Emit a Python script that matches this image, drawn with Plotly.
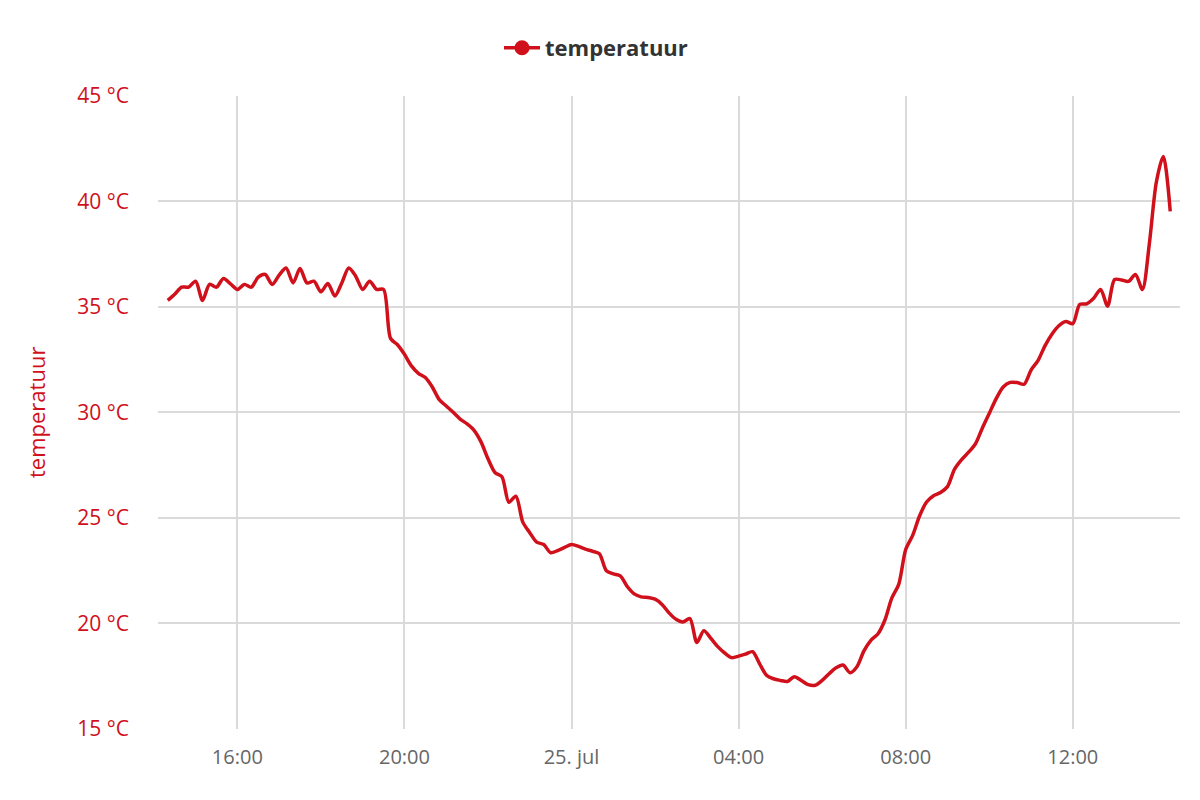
import pandas as pd
import plotly.graph_objects as go

# 10-minute readings, 24 jul 14:20 -> 25 jul 14:20
start_time = "2019-07-24 14:20"
temp = [
    35.30, 35.59, 35.93, 35.93, 36.21, 35.30, 36.06, 35.93, 36.34, 36.09,
    35.82, 36.06, 35.93, 36.40, 36.53, 36.06, 36.50, 36.84, 36.13, 36.81,
    36.13, 36.21, 35.71, 36.10, 35.51, 36.13, 36.84, 36.45, 35.82, 36.21,
    35.82, 35.82,
    33.50, 33.20, 32.75, 32.20, 31.85, 31.65, 31.20, 30.60, 30.30, 30.00,
    29.68, 29.45, 29.15, 28.60, 27.80, 27.15, 26.95, 25.74, 26.03, 24.80,
    24.30, 23.85, 23.74, 23.35, 23.45, 23.60,
    23.74, 23.65, 23.52, 23.42, 23.30, 22.50, 22.35, 22.25, 21.75, 21.40,
    21.26, 21.23, 21.15, 20.90, 20.50, 20.20, 20.07, 20.23, 19.10, 19.65,
    19.30, 18.90, 18.60, 18.38, 18.45, 18.55, 18.66, 18.10, 17.55, 17.38,
    17.30, 17.25, 17.48, 17.30, 17.10, 17.07, 17.30, 17.62, 17.90, 18.03,
    17.67, 17.95, 18.70, 19.20, 19.50, 20.15, 21.20, 21.85, 23.50, 24.17,
    25.10, 25.75, 26.05, 26.20, 26.48, 27.30, 27.75, 28.10, 28.50, 29.25,
    29.95, 30.65, 31.20, 31.42, 31.41, 31.33, 32.00, 32.45, 33.15, 33.70,
    34.10, 34.30, 34.20, 35.11, 35.14, 35.40, 35.82, 35.03, 36.29, 36.27,
    36.20, 36.53, 35.82, 38.00, 40.90, 42.12, 39.52,
]
times = pd.date_range(start_time, periods=len(temp), freq="10min")

tick_vals = ["2019-07-24 16:00", "2019-07-24 20:00", "2019-07-25 00:00",
             "2019-07-25 04:00", "2019-07-25 08:00", "2019-07-25 12:00"]
tick_text = ["16:00", "20:00", "25. jul", "04:00", "08:00", "12:00"]

red = "#d0101b"
grid = "#dadada"
font = "Open Sans"

fig = go.Figure()
fig.add_trace(go.Scatter(x=times, y=temp, mode="lines",
                         line=dict(color=red, width=3.5, shape="spline", smoothing=0.8),
                         showlegend=False))
# legend entry with line + dot
fig.add_trace(go.Scatter(x=[None], y=[None], mode="lines+markers", name="temperatuur",
                         line=dict(color=red, width=3.5),
                         marker=dict(color=red, size=15)))

fig.update_layout(
    width=1200, height=800,
    margin=dict(l=150, r=28, t=86, b=79),
    paper_bgcolor="white", plot_bgcolor="white",
    font=dict(family=font, size=20, color="#666666"),
    legend=dict(orientation="h", xref="container", yref="container",
                x=0.49, xanchor="center", y=0.95, yanchor="middle",
                font=dict(size=22, color="#333333", family=font, weight="bold"),
                itemwidth=36),
    hovermode=False,
)
fig.update_xaxes(
    range=[times[0] - pd.Timedelta(minutes=14), times[-1] + pd.Timedelta(minutes=14)],
    tickvals=tick_vals, ticktext=tick_text,
    showgrid=True, gridcolor=grid, gridwidth=1.5,
    showline=False, zeroline=False, ticks="",
    ticklabelstandoff=14,
    tickfont=dict(size=20, color="#666666"),
)
fig.update_yaxes(
    range=[15, 45], dtick=5, ticksuffix=" °C",
    showgrid=True, gridcolor=grid, gridwidth=1.5,
    showline=False, zeroline=False, ticks="",
    ticklabelstandoff=28,
    tickfont=dict(size=21, color=red),
    title=dict(text="temperatuur", font=dict(size=22, color=red), standoff=25),
)

fig.write_html("out.html")
